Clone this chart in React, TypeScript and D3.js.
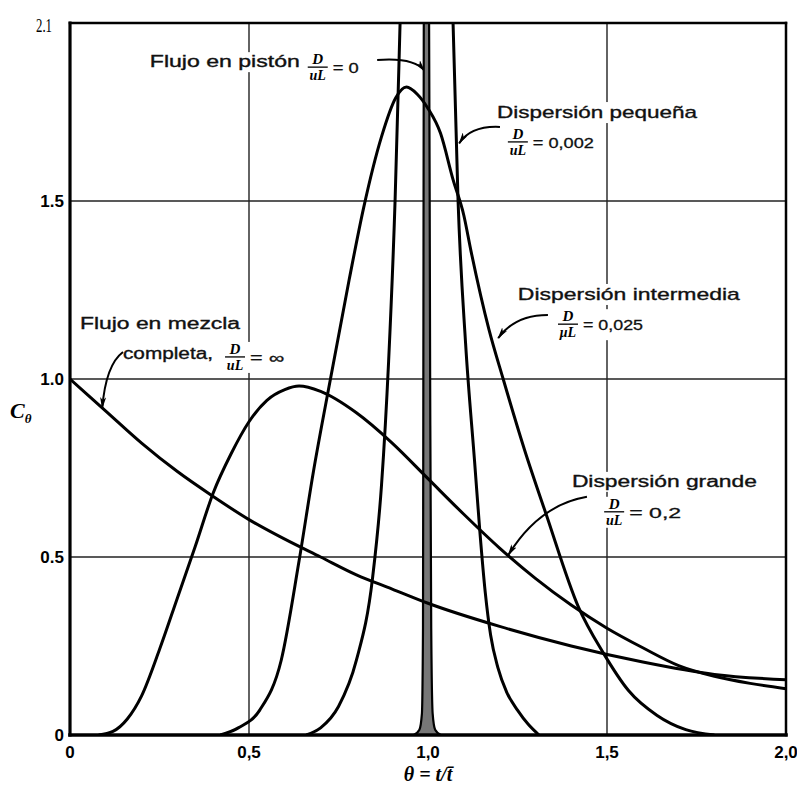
import React, { useEffect, useRef } from "react";
import * as d3 from "d3";

// axis ticks
const thetaTicks = [0, 0.5, 1.0, 1.5, 2.0];
const thetaTickLabels = ["0", "0,5", "1,0", "1,5", "2,0"];
const cTicks = [0, 0.5, 1.0, 1.5, 2.0];
const cTickLabels = ["0", "0.5", "1.0", "1.5", "2.1"];

// flujo en mezcla completa, D/uL = inf
const mixedTheta = [0, 0.1, 0.2, 0.3, 0.4, 0.5, 0.6, 0.7, 0.8, 0.9, 1.0, 1.2, 1.4, 1.6, 1.8, 2.0];
const mixedC = [1.0, 0.91, 0.82, 0.74, 0.67, 0.605, 0.55, 0.5, 0.45, 0.41, 0.37, 0.305, 0.25, 0.205, 0.17, 0.155];

// dispersion grande, D/uL = 0.2
const largeTheta = [0.08, 0.12, 0.16, 0.2, 0.25, 0.3, 0.35, 0.4, 0.45, 0.5, 0.55, 0.6, 0.64, 0.7, 0.8, 0.9, 1.0, 1.1, 1.2, 1.3, 1.4, 1.5, 1.6, 1.7, 1.8, 1.9, 2.0];
const largeC = [0, 0.01, 0.045, 0.11, 0.24, 0.385, 0.53, 0.68, 0.79, 0.88, 0.94, 0.97, 0.98, 0.965, 0.905, 0.82, 0.72, 0.62, 0.525, 0.44, 0.365, 0.3, 0.245, 0.195, 0.165, 0.145, 0.13];

// dispersion intermedia, D/uL = 0.025
const midTheta = [0.42, 0.47, 0.53, 0.59, 0.64, 0.68, 0.72, 0.78, 0.82, 0.87, 0.91, 0.94, 0.97, 1.0, 1.035, 1.07, 1.1, 1.12, 1.17, 1.21, 1.27, 1.33, 1.42, 1.49, 1.56, 1.64, 1.72, 1.8];
const midC = [0, 0.02, 0.07, 0.21, 0.49, 0.74, 0.96, 1.28, 1.48, 1.68, 1.79, 1.82, 1.8, 1.76, 1.69, 1.56, 1.46, 1.36, 1.14, 1.0, 0.8, 0.62, 0.36, 0.23, 0.125, 0.055, 0.015, 0];

// dispersion pequena, D/uL = 0.002 (goes off the top, two branches)
const smallLeftTheta = [0.66, 0.7, 0.75, 0.8, 0.845, 0.87, 0.89, 0.908, 0.922, 0.93];
const smallLeftC = [0, 0.02, 0.08, 0.21, 0.44, 0.7, 1.05, 1.5, 2.0, 2.3];
const smallRightTheta = [1.064, 1.07, 1.084, 1.105, 1.13, 1.145, 1.16, 1.175, 1.195, 1.22, 1.25, 1.28, 1.31];
const smallRightC = [2.3, 2.0, 1.5, 1.1, 0.77, 0.57, 0.4, 0.28, 0.19, 0.12, 0.07, 0.03, 0];

// flujo en piston, D/uL = 0 (spike)
const plugTheta = [0.96, 0.976, 0.983, 0.986, 0.987, 0.989, 1.002, 1.006, 1.009, 1.013, 1.02, 1.036];
const plugC = [0, 0.015, 0.06, 0.3, 1.0, 2.3, 2.3, 1.0, 0.3, 0.06, 0.015, 0];

const zip = (xs: number[], ys: number[]) => xs.map((x, i) => [x, ys[i]] as [number, number]);

const W = 797, H = 787;
const margin = { left: 70, right: 11, top: 23, bottom: 52 };

export default function App() {
  const ref = useRef<SVGSVGElement>(null);

  useEffect(() => {
    const svg = d3.select(ref.current);
    svg.selectAll("*").remove();

    const x = d3.scaleLinear().domain([0, 2]).range([margin.left, W - margin.right]);
    const y = d3.scaleLinear().domain([0, 2]).range([H - margin.bottom, margin.top]);
    const x0 = x(0), x1 = x(2), y0 = y(0), y1 = y(2);

    const defs = svg.append("defs");
    defs.append("clipPath").attr("id", "plotclip")
      .append("rect").attr("x", x0).attr("y", y1).attr("width", x1 - x0).attr("height", y0 - y1);
    defs.append("marker").attr("id", "head")
      .attr("viewBox", "0 0 12 6").attr("refX", 11).attr("refY", 3)
      .attr("markerWidth", 12).attr("markerHeight", 6).attr("markerUnits", "userSpaceOnUse")
      .attr("orient", "auto")
      .append("path").attr("d", "M0,0 L12,3 L0,6 L3,3 Z").attr("fill", "#000");

    svg.append("rect").attr("width", W).attr("height", H).attr("fill", "#fff");

    // grid
    const grid = svg.append("g").attr("stroke", "#222").attr("stroke-width", 1.4);
    [0.5, 1.0, 1.5].forEach(v => {
      grid.append("line").attr("x1", x(v)).attr("x2", x(v)).attr("y1", y0).attr("y2", y1);
      grid.append("line").attr("x1", x0).attr("x2", x1).attr("y1", y(v)).attr("y2", y(v));
    });

    // label masks + labels drawn before curves so curves stay on top
    const sans = "'Liberation Sans', Arial, sans-serif";
    const serif = "'Liberation Serif', 'DejaVu Serif', serif";
    const ann = svg.append("g");

    const label = (txt: string, tx: number, ty: number, w: number, size = 16) => {
      ann.append("rect").attr("x", x(tx) - 2).attr("y", y(ty) - size + 1).attr("width", w + 4).attr("height", size + 4).attr("fill", "#fff");
      ann.append("text").attr("x", x(tx)).attr("y", y(ty))
        .attr("font-family", sans).attr("font-size", size).attr("fill", "#111")
        .attr("stroke", "#111").attr("stroke-width", 0.35)
        .attr("textLength", w).attr("lengthAdjust", "spacingAndGlyphs").text(txt);
    };
    const frac = (cx: number, cy: number, den: string, eq: string, eqW: number) => {
      const px = x(cx), py = y(cy);
      ann.append("rect").attr("x", px - 11).attr("y", py - 15).attr("width", 24 + eqW + 8).attr("height", 31).attr("fill", "#fff");
      ann.append("text").attr("x", px).attr("y", py - 3).attr("text-anchor", "middle")
        .attr("font-family", serif).attr("font-style", "italic").attr("font-weight", "bold")
        .attr("font-size", 15).text("D");
      ann.append("line").attr("x1", px - 10).attr("x2", px + 10).attr("y1", py).attr("y2", py)
        .attr("stroke", "#111").attr("stroke-width", 1.4);
      ann.append("text").attr("x", px).attr("y", py + 13).attr("text-anchor", "middle")
        .attr("font-family", serif).attr("font-style", "italic").attr("font-weight", "bold")
        .attr("font-size", 14).text(den);
      ann.append("text").attr("x", px + 15).attr("y", py + 6)
        .attr("font-family", sans).attr("font-size", 15).attr("fill", "#111")
        .attr("stroke", "#111").attr("stroke-width", 0.3)
        .attr("textLength", eqW).attr("lengthAdjust", "spacingAndGlyphs").text(eq);
    };
    const arrow = (pts: [number, number][]) => {
      const [a, c, b] = pts;
      ann.append("path")
        .attr("d", `M${x(a[0])},${y(a[1])} Q${x(c[0])},${y(c[1])} ${x(b[0])},${y(b[1])}`)
        .attr("fill", "none").attr("stroke", "#000").attr("stroke-width", 2)
        .attr("marker-end", "url(#head)");
    };

    // Flujo en piston
    label("Flujo en pistón", 0.223, 1.876, 150);
    frac(0.692, 1.876, "uL", "= 0", 26);
    arrow([[0.858, 1.896], [0.96, 1.904], [0.99, 1.866]]);

    // Dispersion pequena
    label("Dispersión pequeña", 1.193, 1.733, 200, 17);
    frac(1.251, 1.666, "uL", "= 0,002", 61);
    arrow([[1.201, 1.708], [1.12, 1.712], [1.087, 1.662]]);

    // Dispersion intermedia
    label("Dispersión intermedia", 1.251, 1.222, 222, 17);
    frac(1.391, 1.154, "μL", "= 0,025", 60);
    arrow([[1.335, 1.18], [1.243, 1.18], [1.196, 1.115]]);

    // Flujo en mezcla completa
    label("Flujo en mezcla", 0.028, 1.14, 160);
    label("completa,", 0.148, 1.056, 90);
    frac(0.461, 1.062, "uL", "= ∞", 34);
    arrow([[0.148, 1.076], [0.1, 1.04], [0.09, 0.918]]);

    // Dispersion grande
    label("Dispersión grande", 1.402, 0.697, 185);
    frac(1.52, 0.627, "uL", "= 0,2", 52);
    arrow([[1.444, 0.669], [1.31, 0.646], [1.224, 0.505]]);

    // curves
    const line = d3.line<[number, number]>()
      .x(d => x(d[0])).y(d => y(d[1])).curve(d3.curveMonotoneX);
    const curves = svg.append("g").attr("clip-path", "url(#plotclip)");

    curves.append("path").attr("d", line(zip(plugTheta, plugC)) + "Z")
      .attr("fill", "#777").attr("stroke", "#000").attr("stroke-width", 2.2);

    [zip(mixedTheta, mixedC), zip(largeTheta, largeC), zip(midTheta, midC),
     zip(smallLeftTheta, smallLeftC), zip(smallRightTheta, smallRightC)].forEach(s => {
      curves.append("path").attr("d", line(s))
        .attr("fill", "none").attr("stroke", "#000").attr("stroke-width", 3)
        .attr("stroke-linejoin", "round");
    });

    // frame
    const frame = svg.append("g").attr("stroke", "#000").attr("stroke-linecap", "square");
    frame.append("line").attr("x1", x0).attr("x2", x1).attr("y1", y1).attr("y2", y1).attr("stroke-width", 2.5);
    frame.append("line").attr("x1", x1).attr("x2", x1).attr("y1", y1).attr("y2", y0).attr("stroke-width", 2.5);
    frame.append("line").attr("x1", x0).attr("x2", x0).attr("y1", y1).attr("y2", y0).attr("stroke-width", 3.2);
    frame.append("line").attr("x1", x0).attr("x2", x1).attr("y1", y0).attr("y2", y0).attr("stroke-width", 3.6);

    // tick labels
    svg.append("g").selectAll("text").data(thetaTicks).join("text")
      .attr("x", d => x(d)).attr("y", y0 + 23).attr("text-anchor", "middle")
      .attr("font-family", sans).attr("font-weight", "bold").attr("font-size", 17)
      .text((d, i) => thetaTickLabels[i]);

    svg.append("g").selectAll("text").data(cTicks.slice(0, 4)).join("text")
      .attr("x", x0 - 6).attr("y", d => y(d) + 6).attr("text-anchor", "end")
      .attr("font-family", sans).attr("font-weight", "bold").attr("font-size", 17)
      .text((d, i) => cTickLabels[i]);
    svg.append("text").attr("x", x0 - 18).attr("y", y(cTicks[4]) + 9).attr("text-anchor", "end")
      .attr("font-family", serif).attr("font-size", 19).attr("textLength", 16)
      .attr("lengthAdjust", "spacingAndGlyphs").text(cTickLabels[4]);

    // axis titles
    const yt = svg.append("text").attr("x", 10).attr("y", 418)
      .attr("font-family", serif).attr("font-style", "italic").attr("font-weight", "bold").attr("font-size", 22);
    yt.append("tspan").text("C");
    yt.append("tspan").attr("dy", 5).attr("font-size", 13).text("θ");

    svg.append("text").attr("x", x(1.0)).attr("y", 781).attr("text-anchor", "middle")
      .attr("font-family", serif).attr("font-style", "italic").attr("font-weight", "bold").attr("font-size", 20)
      .text("θ = t/t\u0304");
  }, []);

  return (
    <svg ref={ref} width={W} height={H}
      style={{ position: "absolute", left: 0, top: 0, display: "block" }} />
  );
}
